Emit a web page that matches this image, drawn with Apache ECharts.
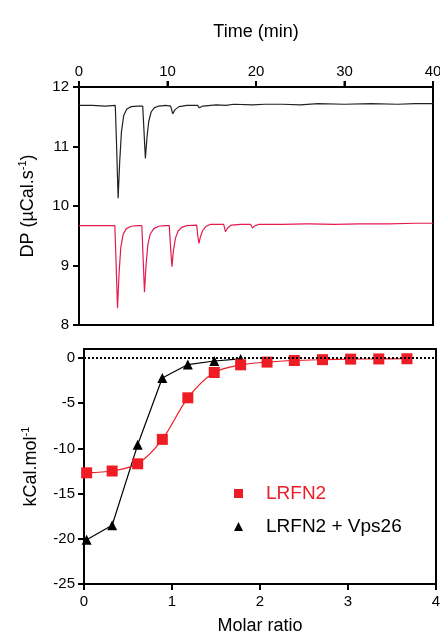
<!DOCTYPE html>
<html>
<head>
<meta charset="utf-8">
<script src="https://cdn.jsdelivr.net/npm/echarts@6/dist/echarts.min.js"></script>
<style>
  html, body {margin: 0; padding: 0; background: #fff;}
  #chart {width: 440px; height: 635px;}
</style>
</head>
<body>
<div id="chart"></div>
<script>
// raw ITC traces, [time (min), DP (uCal/s)]
const traceVps26 = [
  [0, 11.69], [1.5, 11.69], [3, 11.68], [4.1, 11.69], [4.25, 11.0], [4.42, 10.13], [4.6, 10.75],
  [4.8, 11.25], [5.05, 11.52], [5.4, 11.63], [5.9, 11.67], [6.6, 11.68], [7.2, 11.68],
  [7.33, 11.3], [7.5, 10.8], [7.68, 11.15], [7.88, 11.42], [8.15, 11.58], [8.5, 11.65],
  [9.0, 11.68], [9.8, 11.69], [10.35, 11.68], [10.6, 11.55], [10.85, 11.62], [11.3, 11.67],
  [12.2, 11.69], [13.4, 11.69], [13.6, 11.65], [14.0, 11.68], [15.5, 11.7], [16.6, 11.69],
  [17.5, 11.71], [19.6, 11.7], [21, 11.71], [23, 11.71], [25, 11.7], [27, 11.72],
  [30, 11.71], [33, 11.72], [36, 11.71], [38, 11.72], [40, 11.72]
];
const traceLrfn2 = [
  [0, 9.67], [2, 9.67], [4.05, 9.67], [4.2, 9.0], [4.35, 8.28], [4.52, 8.85], [4.72, 9.3],
  [4.98, 9.52], [5.35, 9.62], [5.9, 9.66], [6.6, 9.67], [7.1, 9.67], [7.25, 9.1], [7.4, 8.55],
  [7.57, 9.0], [7.78, 9.35], [8.05, 9.53], [8.45, 9.62], [9.0, 9.66], [9.7, 9.67],
  [10.2, 9.67], [10.35, 9.3], [10.5, 8.98], [10.67, 9.25], [10.9, 9.46], [11.2, 9.58],
  [11.6, 9.64], [12.2, 9.67], [13.3, 9.68], [13.42, 9.5], [13.55, 9.37], [13.72, 9.48],
  [13.95, 9.58], [14.3, 9.65], [14.8, 9.69], [16.35, 9.69], [16.55, 9.57], [16.8, 9.63],
  [17.2, 9.68], [18.3, 9.69], [19.4, 9.69], [19.6, 9.63], [19.9, 9.67], [20.3, 9.69],
  [22.5, 9.69], [22.7, 9.67], [23.0, 9.69], [25.6, 9.7], [25.75, 9.68], [26.1, 9.7],
  [28.8, 9.69], [31.8, 9.7], [35, 9.7], [38, 9.71], [40, 9.71]
];

// integrated heats
const molarRatio = [0.03, 0.32, 0.61, 0.89, 1.18, 1.48, 1.78, 2.08, 2.39, 2.71, 3.03, 3.35, 3.67];
const heatLrfn2 = [-12.7, -12.5, -11.7, -9.0, -4.4, -1.6, -0.75, -0.45, -0.27, -0.18, -0.12, -0.1, -0.08];
const heatVps26 = [-20.1, -18.5, -9.6, -2.2, -0.72, -0.33, -0.1];

const timeTicks = [0, 10, 20, 30, 40];
const ratioTicks = [0, 1, 2, 3, 4];
const heatTicks = [-25, -20, -15, -10, -5, 0];

const font = 'Liberation Sans';
const red = '#ee1c25';
const trRed = '#e31b4f';

// fresh objects per axis so echarts never shares option state between them
const axisLine = () => ({show: true, onZero: false, lineStyle: {color: '#000', width: 2}});
const axisTick = () => ({show: true, length: 6, lineStyle: {color: '#000', width: 2}});
const label = (margin) => ({color: '#000', fontFamily: font, fontSize: 15, margin});
const nameStyle = () => ({
  color: '#000', fontFamily: font, fontSize: 18,
  rich: {
    n: {fontFamily: font, fontSize: 18, color: '#000', lineHeight: 22},
    s: {fontFamily: font, fontSize: 11, color: '#000', verticalAlign: 'top', lineHeight: 22}
  }
});
// the frame on the far sides: an axis line with nothing else
const frame = (gridIndex, position) => ({
  type: 'value', gridIndex, position, min: 0, max: 1,
  axisLine: {show: true, onZero: false, lineStyle: {color: '#000', width: 2}},
  axisTick: {show: false}, axisLabel: {show: false}, splitLine: {show: false}
});
// outward x ticks, placed through the axis scale (the built-in ones did not show)
const tickMarks = (xi, yi, data, dir) => ({
  type: 'custom', xAxisIndex: xi, yAxisIndex: yi, silent: true, clip: false, z: 10,
  data,
  renderItem: (params, api) => {
    const p = api.coord([api.value(0), api.value(1)]);
    return {
      type: 'line',
      shape: {x1: p[0], y1: p[1], x2: p[0], y2: p[1] + dir * 6},
      style: {stroke: '#000', lineWidth: 2}
    };
  }
});

const chart = echarts.init(document.getElementById('chart'), null, {renderer: 'canvas'});
chart.setOption({
  animation: false,
  backgroundColor: '#fff',
  grid: [
    {left: 79, right: 7, top: 87, bottom: 310, outerBoundsMode: 'none'},
    {left: 84, right: 4, top: 349, bottom: 51, outerBoundsMode: 'none'}
  ],
  xAxis: [
    {
      type: 'value', gridIndex: 0, position: 'top', min: 0, max: 40, interval: 10,
      name: 'Time (min)', nameLocation: 'middle', nameGap: 46,
      nameTextStyle: {color: '#000', fontFamily: font, fontSize: 18},
      axisLine: axisLine(), axisTick: axisTick(), axisLabel: label(8),
      splitLine: {show: false}
    },
    {
      type: 'value', gridIndex: 1, position: 'bottom', min: 0, max: 4, interval: 1,
      name: 'Molar ratio', nameLocation: 'middle', nameGap: 33,
      nameTextStyle: {color: '#000', fontFamily: font, fontSize: 18},
      axisLine: axisLine(), axisTick: axisTick(), axisLabel: label(10),
      splitLine: {show: false}
    },
    frame(0, 'bottom'),
    frame(1, 'top')
  ],
  yAxis: [
    {
      type: 'value', gridIndex: 0, position: 'left', min: 8, max: 12, interval: 1,
      name: '{n|DP (µCal.s}{s|-1}{n|)}', nameLocation: 'middle', nameGap: 40,
      nameTextStyle: nameStyle(),
      axisLine: axisLine(), axisTick: axisTick(), axisLabel: label(10),
      splitLine: {show: false}
    },
    {
      type: 'value', gridIndex: 1, position: 'left', min: -25, max: 1, interval: 5,
      name: '{n|kCal.mol}{s|-1}', nameLocation: 'middle', nameGap: 42,
      nameTextStyle: nameStyle(),
      axisLine: axisLine(), axisTick: {...axisTick(), customValues: heatTicks},
      axisLabel: {...label(9), customValues: heatTicks},
      splitLine: {show: false}
    },
    frame(0, 'right'),
    frame(1, 'right')
  ],
  legend: {
    left: 229, top: 479, orient: 'vertical', itemGap: 14,
    itemWidth: 9, itemHeight: 9, selectedMode: false,
    textStyle: {fontFamily: font, fontSize: 19, color: '#000', padding: [0, 0, 0, 18]},
    data: [
      {name: 'LRFN2', icon: 'rect', itemStyle: {color: red}, textStyle: {color: red}},
      {name: 'LRFN2 + Vps26', icon: 'triangle', itemStyle: {color: '#000'}}
    ]
  },
  series: [
    {
      type: 'line', name: 'trace Vps26', xAxisIndex: 0, yAxisIndex: 0, data: traceVps26,
      showSymbol: false, lineStyle: {color: '#222', width: 1.2}
    },
    {
      type: 'line', name: 'trace LRFN2', xAxisIndex: 0, yAxisIndex: 0, data: traceLrfn2,
      showSymbol: false, lineStyle: {color: trRed, width: 1.2}
    },
    {
      type: 'line', name: 'LRFN2 + Vps26', xAxisIndex: 1, yAxisIndex: 1,
      data: molarRatio.slice(0, heatVps26.length).map((x, i) => [x, heatVps26[i]]),
      symbol: 'triangle', symbolSize: 10, smooth: false,
      itemStyle: {color: '#000'}, lineStyle: {color: '#000', width: 1.2},
      markLine: {
        silent: true, symbol: 'none', label: {show: false},
        lineStyle: {color: '#000', type: [2, 2], width: 2},
        data: [{yAxis: 0}]
      },
      z: 3
    },
    {
      type: 'line', name: 'LRFN2', xAxisIndex: 1, yAxisIndex: 1,
      data: molarRatio.map((x, i) => [x, heatLrfn2[i]]),
      symbol: 'rect', symbolSize: 11, smooth: 0.3,
      itemStyle: {color: red}, lineStyle: {color: red, width: 1.2}, z: 4
    },
    tickMarks(0, 0, timeTicks.map(t => [t, 12]), -1),
    tickMarks(1, 1, ratioTicks.map(r => [r, -25]), 1)
  ]
});
</script>
</body>
</html>
